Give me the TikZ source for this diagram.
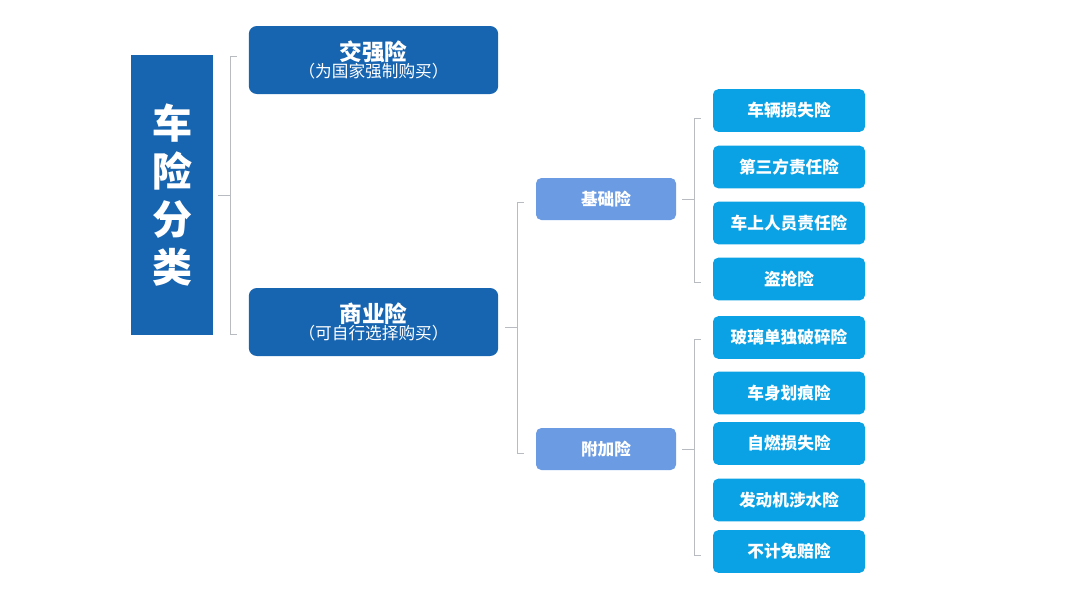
\documentclass[tikz,border=0pt]{standalone}
\usepackage{fontspec}
\setmainfont{Noto Sans CJK SC}
\usetikzlibrary{calc}
\definecolor{darkblue}{HTML}{1764B0}
\definecolor{midblue}{HTML}{6A9BE3}
\definecolor{leafblue}{HTML}{0AA2E4}
\definecolor{brkgray}{HTML}{B8BCC0}
\tikzset{
  rootbox/.style={fill=darkblue, text=white, minimum width=61.5pt, minimum height=210pt, inner sep=0pt, align=center, font=\fontsize{30}{36}\selectfont\bfseries},
  mainbox/.style={fill=darkblue, text=white, rounded corners=6pt, minimum width=187pt, minimum height=51pt, inner sep=0pt, align=center},
  midbox/.style={fill=midblue, text=white, rounded corners=4pt, minimum width=105pt, minimum height=31.5pt, inner sep=0pt, font=\fontsize{12.5}{14}\selectfont\bfseries},
  leafbox/.style={fill=leafblue, text=white, rounded corners=4pt, minimum width=114pt, minimum height=32pt, inner sep=0pt, font=\fontsize{12.5}{14}\selectfont\bfseries},
  brk/.style={draw=brkgray, line width=0.6pt}
}
\begin{document}
\begin{tikzpicture}[x=0.75pt, y=-0.75pt]
  \useasboundingbox (0,0) rectangle (1080,608);

  % root
  \node[rootbox] (root) at (172,195) {车\\险\\分\\类};

  % main branches
  \node[mainbox] (jq) at (373.5,60) {{\fontsize{17}{20}\selectfont\bfseries 交强险}\\[-1pt]{\fontsize{12.5}{15}\selectfont（为国家强制购买）}};
  \node[mainbox] (sy) at (373.5,322) {{\fontsize{17}{20}\selectfont\bfseries 商业险}\\[-1pt]{\fontsize{12.5}{15}\selectfont（可自行选择购买）}};

  % second level
  \node[midbox] (jc) at (606,199) {基础险};
  \node[midbox] (fj) at (606,449) {附加险};

  % leaves
  \node[leafbox] (l1) at (789,110.5) {车辆损失险};
  \node[leafbox] (l2) at (789,167) {第三方责任险};
  \node[leafbox] (l3) at (789,223) {车上人员责任险};
  \node[leafbox] (l4) at (789,279) {盗抢险};
  \node[leafbox] (l5) at (789,337.5) {玻璃单独破碎险};
  \node[leafbox] (l6) at (789,393) {车身划痕险};
  \node[leafbox] (l7) at (789,443.5) {自燃损失险};
  \node[leafbox] (l8) at (789,500) {发动机涉水险};
  \node[leafbox] (l9) at (789,551.5) {不计免赔险};

  % brackets
  \draw[brk] ($(root.east)+(5,0)$) -- ++(13,0);
  \draw[brk] ($(jq.west)+(-12,-4)$) -- ++(-6,0) |- ($(sy.west)+(-12,12)$);
  \draw[brk] ($(sy.east)+(7,5)$) -- ++(13,0);
  \draw[brk] ($(jc.west)+(-12,3)$) -- ++(-6,0) |- ($(fj.west)+(-12,4)$);
  \draw[brk] ($(jc.east)+(6,0)$) -- ++(13,0);
  \draw[brk] ($(l1.west)+(-12,8)$) -- ++(-6,0) |- ($(l4.west)+(-12,3)$);
  \draw[brk] ($(fj.east)+(6,0)$) -- ++(13,0);
  \draw[brk] ($(l5.west)+(-12,2)$) -- ++(-6,0) |- ($(l9.west)+(-12,4)$);
\end{tikzpicture}
\end{document}
